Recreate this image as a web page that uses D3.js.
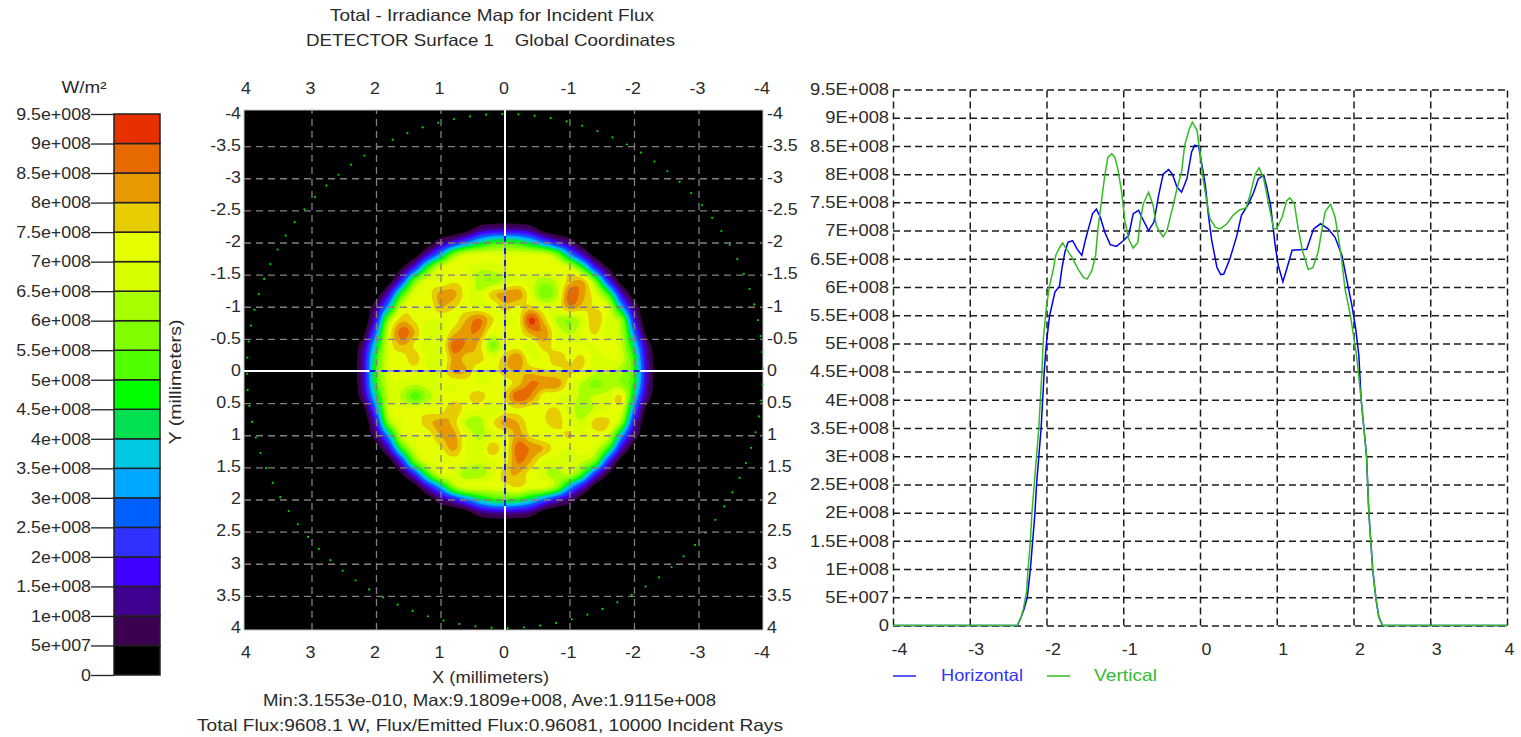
<!DOCTYPE html>
<html><head><meta charset="utf-8">
<script src="https://cdn.jsdelivr.net/npm/d3@7"></script>
<style>
html,body{margin:0;padding:0;background:#fff;overflow:hidden}
svg{display:block}
text{font-family:"Liberation Sans",Arial,sans-serif;font-size:16.5px;fill:#2a2a2a;white-space:pre}
</style></head><body>
<svg id="c" width="1521" height="737"></svg>
<script>
// ---------- data ----------
const titleLines = ["Total - Irradiance Map for Incident Flux", "DETECTOR Surface 1    Global Coordinates"];
const statLines = ["Min:3.1553e-010, Max:9.1809e+008, Ave:1.9115e+008", "Total Flux:9608.1 W, Flux/Emitted Flux:0.96081, 10000 Incident Rays"];
const unitLabel = "W/m²";
const levelValues = [0,5e7,1e8,1.5e8,2e8,2.5e8,3e8,3.5e8,4e8,4.5e8,5e8,5.5e8,6e8,6.5e8,7e8,7.5e8,8e8,8.5e8,9e8,9.5e8];
const levelLabels = ["0","5e+007","1e+008","1.5e+008","2e+008","2.5e+008","3e+008","3.5e+008","4e+008","4.5e+008","5e+008","5.5e+008","6e+008","6.5e+008","7e+008","7.5e+008","8e+008","8.5e+008","9e+008","9.5e+008"];
const profileLabels = ["0","5E+007","1E+008","1.5E+008","2E+008","2.5E+008","3E+008","3.5E+008","4E+008","4.5E+008","5E+008","5.5E+008","6E+008","6.5E+008","7E+008","7.5E+008","8E+008","8.5E+008","9E+008","9.5E+008"];
const levelColors = ["#000000","#3c0050","#400090","#4000ff","#3030ff","#0060ff","#00a8ff","#00c8e0","#00e050","#00ff00","#50ff00","#80ff00","#a8ff00","#d8ff00","#e6ff00","#e6cc00","#e69a00","#e66a00","#e63000"];
const mapXTicks = [4,3,2,1,0,-1,-2,-3,-4];
const mapYTicks = [-4,-3.5,-3,-2.5,-2,-1.5,-1,-0.5,0,0.5,1,1.5,2,2.5,3,3.5,4];
const profileXTicks = [-4,-3,-2,-1,0,1,2,3,4];
const gridStep = 0.2;        // mm between samples
const gridUnit = 1e7;        // W/m² per stored unit
const irradianceRows = [
[0,0,0,0,0,0,0,0,0,0,0,0,0,0,0,0,0,0,0,0,0,0,0,0,0,0,0],
[0,0,0,0,0,0,0,0,0,0,0,0,0,0,0,0,0,0,0,0,0,0,0,0,0,0,0],
[0,0,0,0,0,0,0,0,0,0,2,10,13,14,13,10,2,0,0,0,0,0,0,0,0,0,0],
[0,0,0,0,0,0,0,1,10,18,29,40,48,50,48,40,29,18,10,1,0,0,0,0,0,0,0],
[0,0,0,0,0,0,2,17,35,60,70,70,70,70,70,70,70,60,35,17,2,0,0,0,0,0,0],
[0,0,0,0,0,5,22,50,70,72,70,66,67,70,72,72,72,72,70,50,22,5,0,0,0,0,0],
[0,0,0,0,2,22,56,70,70,74,72,62,60,66,70,68,62,66,78,80,56,22,2,0,0,0,0],
[0,0,0,1,17,50,70,72,82,82,72,66,78,82,84,70,56,64,88,82,70,50,17,1,0,0,0],
[0,0,0,10,35,68,72,70,80,76,72,70,70,78,74,76,70,70,84,78,74,68,35,10,0,0,0],
[0,0,0,18,60,78,74,70,70,72,80,86,76,70,72,92,78,64,60,68,80,68,60,18,0,0,0],
[0,0,2,29,70,88,80,66,68,78,84,84,70,74,72,82,84,70,64,70,76,66,64,29,2,0,0],
[0,0,10,40,70,80,74,66,68,88,84,78,58,70,72,68,78,72,72,70,70,74,66,40,10,0,0],
[0,0,13,48,70,72,78,68,66,82,78,78,70,78,84,70,72,78,74,76,68,70,68,48,13,0,0],
[0,0,14,50,70,72,72,70,70,82,80,70,72,78,80,78,76,74,76,74,66,66,62,50,14,0,0],
[0,0,13,48,68,68,66,68,70,70,72,70,70,72,78,86,84,84,72,64,58,62,60,48,13,0,0],
[0,0,10,40,66,64,52,62,70,72,74,78,72,76,90,84,72,70,68,64,66,68,76,40,10,0,0],
[0,0,2,29,68,70,72,72,72,80,72,70,66,72,74,72,74,76,68,62,66,70,70,29,2,0,0],
[0,0,0,18,60,70,72,78,82,78,64,62,74,82,80,72,74,78,70,66,78,76,60,18,0,0,0],
[0,0,0,10,35,68,70,72,80,82,70,64,68,72,82,74,70,72,76,70,72,68,35,10,0,0,0],
[0,0,0,1,17,50,68,72,74,82,70,66,80,72,88,84,80,72,70,72,68,50,17,1,0,0,0],
[0,0,0,0,2,22,56,70,70,72,70,66,70,72,86,80,70,68,68,66,56,22,2,0,0,0,0],
[0,0,0,0,0,5,22,50,70,70,60,62,68,78,80,72,66,62,66,50,22,5,0,0,0,0,0],
[0,0,0,0,0,0,2,17,35,60,70,70,70,72,76,70,70,60,35,17,2,0,0,0,0,0,0],
[0,0,0,0,0,0,0,1,10,18,29,40,48,50,48,40,29,18,10,1,0,0,0,0,0,0,0],
[0,0,0,0,0,0,0,0,0,0,2,10,13,14,13,10,2,0,0,0,0,0,0,0,0,0,0],
[0,0,0,0,0,0,0,0,0,0,0,0,0,0,0,0,0,0,0,0,0,0,0,0,0,0,0],
[0,0,0,0,0,0,0,0,0,0,0,0,0,0,0,0,0,0,0,0,0,0,0,0,0,0,0]];
const apertureRadiusMm = 4;
const apertureDotCount = 100;

const horizontalX = [-4,-2.38,-2.33,-2.29,-2.25,-2.21,-2.18,-2.15,-2.13,-2.10,-2.07,-2.05,-2.03,-2.0,-1.96,-1.89,-1.83,-1.80,-1.76,-1.72,-1.66,-1.60,-1.54,-1.49,-1.43,-1.40,-1.35,-1.30,-1.24,-1.17,-1.09,-1.0,-.93,-.87,-.80,-.76,-.67,-.60,-.54,-.48,-.41,-.36,-.30,-.24,-.17,-.11,-.07,-.02,.02,.07,.11,.15,.22,.27,.31,.39,.48,.54,.63,.70,.76,.83,.87,.92,.98,1.02,1.08,1.13,1.2,1.3,1.39,1.48,1.57,1.67,1.76,1.85,1.91,1.98,2.03,2.07,2.1,2.17,2.2,2.25,2.29,2.33,2.38,4];
const horizontalV = [0,0,.15,.3,.5,1,1.5,2,2.5,3,3.5,4,4.5,5.02,5.49,5.91,6.02,6.32,6.62,6.79,6.82,6.67,6.56,6.85,7.15,7.30,7.38,7.24,6.97,6.75,6.72,6.82,6.91,7.30,7.36,7.24,7.0,7.15,7.62,8.0,8.08,8.0,7.77,7.68,7.92,8.39,8.51,8.50,8.21,7.8,7.27,6.85,6.35,6.22,6.23,6.5,6.91,7.27,7.47,7.68,7.92,7.98,7.77,7.44,6.73,6.38,6.09,6.32,6.65,6.66,6.67,7.03,7.12,7.03,6.88,6.56,6.14,5.67,5.25,4.78,4,3,2,1,.5,.15,0,0];
const verticalX = [-4,-2.38,-2.33,-2.30,-2.26,-2.24,-2.21,-2.19,-2.16,-2.13,-2.10,-2.08,-2.06,-2.04,-2.0,-1.96,-1.91,-1.88,-1.83,-1.79,-1.74,-1.67,-1.59,-1.52,-1.47,-1.41,-1.36,-1.33,-1.28,-1.24,-1.20,-1.15,-1.11,-1.07,-1.02,-.98,-.93,-.87,-.81,-.78,-.74,-.67,-.61,-.57,-.52,-.48,-.43,-.37,-.30,-.24,-.20,-.14,-.10,-.04,0,.04,.09,.13,.2,.26,.35,.43,.52,.6,.65,.72,.77,.83,.89,.96,1.0,1.07,1.13,1.17,1.23,1.28,1.34,1.41,1.47,1.54,1.59,1.63,1.70,1.76,1.8,1.85,1.89,1.96,2.0,2.04,2.1,2.17,2.2,2.25,2.29,2.33,2.38,4];
const verticalV = [0,0,.15,.3,.6,1,1.5,2,2.5,3,3.5,4,4.5,5.1,5.67,6.02,6.32,6.56,6.70,6.78,6.67,6.53,6.32,6.17,6.14,6.29,6.56,7.03,7.56,7.98,8.30,8.36,8.30,8.09,7.68,7.18,6.85,6.69,6.79,7.15,7.47,7.68,7.44,7.09,6.97,6.89,7.0,7.33,7.74,8.04,8.51,8.80,8.92,8.78,8.39,7.92,7.5,7.21,7.06,7.03,7.12,7.27,7.37,7.4,7.62,8.0,8.11,7.92,7.5,7.03,7.03,7.24,7.53,7.58,7.47,7.03,6.62,6.31,6.34,6.62,7.03,7.33,7.47,7.24,6.91,6.44,5.96,5.49,5.14,4.78,4,3,2,1,.5,.15,0,0];
const profileUnit = 1e8;
const legendNames = ["Horizontal","Vertical"];

// ---------- set-up ----------
const svg = d3.select("#c");
const blue = "#0000ee", green = "#33bb22";

function widen(sel, factor){
  sel.each(function(){
    const n = this.getComputedTextLength();
    d3.select(this).attr("textLength", n*factor).attr("lengthAdjust","spacingAndGlyphs");
  });
}
function fit(sel, width){
  sel.attr("textLength",width).attr("lengthAdjust","spacingAndGlyphs");
}
function label(x,y,txt,anchor,width){
  return svg.append("text").attr("x",x).attr("y",y).attr("text-anchor",anchor||"middle")
    .attr("dy","0.35em").text(txt).call(fit,width);
}
label(492,15,titleLines[0],"middle",324);
label(490.5,40,titleLines[1],"middle",369);
label(489.5,700,statLines[0],"middle",453);
label(490,725,statLines[1],"middle",586);
label(490.5,677,"X (millimeters)","middle",117);
label(84,87,unitLabel,"middle",45);
svg.append("text").attr("transform","translate(175,382) rotate(-90)").attr("text-anchor","middle").attr("dy","0.35em")
  .text("Y (millimeters)").call(fit,125);

// ---------- colour bar ----------
const barY = d3.scaleLinear().domain([0,9.5e8]).range([675,114]);
const barG = svg.append("g");
barG.selectAll("rect").data(levelColors).join("rect")
  .attr("x",114).attr("width",46)
  .attr("y",(d,i)=>barY(levelValues[i+1])).attr("height",(d,i)=>barY(levelValues[i])-barY(levelValues[i+1]))
  .attr("fill",d=>d).attr("stroke","#222").attr("stroke-width",1.5);
const barAxis = svg.append("g").attr("transform","translate(114,0)")
  .call(d3.axisLeft(barY).tickValues(levelValues).tickSize(23).tickPadding(0).tickFormat((d,i)=>levelLabels[i]));
barAxis.attr("font-family",null).attr("font-size",null);
barAxis.select(".domain").remove();
barAxis.selectAll("line").attr("stroke","#222").attr("stroke-width",1.3);
barAxis.selectAll("text").call(widen,1.08);

// ---------- irradiance map ----------
const mapX = d3.scaleLinear().domain([4,-4]).range([247,763]);
const mapY = d3.scaleLinear().domain([-4,4]).range([114,628]);
const mapBox = {x:244,y:110,w:519,h:520};
svg.append("rect").attr("x",mapBox.x).attr("y",mapBox.y).attr("width",mapBox.w).attr("height",mapBox.h)
  .attr("fill","#000").attr("stroke","#c4c4c4").attr("stroke-width",1);

// cubic resampling of the read grid, so the level curves are drawn smoothly
const resample = 4;
const cubic=(a,b,c,d,t)=>0.5*(2*b+(c-a)*t+(2*a-5*b+4*c-d)*t*t+(3*b-a-3*c+d)*t*t*t);
function refine(arr){
  const out=[], n=arr.length;
  for(let i=0;i<n-1;i++) for(let k=0;k<resample;k++)
    out.push(cubic(arr[Math.max(i-1,0)],arr[i],arr[i+1],arr[Math.min(i+2,n-1)],k/resample));
  out.push(arr[n-1]);
  return out;
}
const fineRows = irradianceRows.map(refine);
const fineCols = d3.range(fineRows[0].length).map(j=>refine(fineRows.map(r=>r[j])));
const nFine = fineCols.length;
const flat = [];
for(let y=0;y<nFine;y++) for(let x=0;x<nFine;x++) flat.push(fineCols[x][y]);
const thresholds = levelValues.slice(1,-1).map(v=>v/gridUnit);
const contours = d3.contours().size([nFine,nFine]).smooth(true).thresholds(thresholds)(flat);
const halfSpan = (irradianceRows.length-1)/2;
const proj = d3.geoTransform({point(x,y){
  this.stream.point(mapX(-((x-0.5)/resample-halfSpan)*gridStep), mapY(((y-0.5)/resample-halfSpan)*gridStep));
}});
const pathGen = d3.geoPath(proj);
svg.append("g").selectAll("path").data(contours).join("path")
  .attr("d",pathGen).attr("fill",(d,i)=>levelColors[i+1]).attr("stroke","none");

// aperture dots
svg.append("g").selectAll("circle").data(d3.range(apertureDotCount)).join("circle")
  .attr("cx",i=>mapX(apertureRadiusMm*Math.sin((i+0.83)*2*Math.PI/apertureDotCount)))
  .attr("cy",i=>mapY(apertureRadiusMm*Math.cos((i+0.83)*2*Math.PI/apertureDotCount)))
  .attr("r",1.1).attr("fill","#00d800");

// grid
const gridStyle = g=>{g.select(".domain").remove();
  g.selectAll("line").attr("stroke","#808080").attr("stroke-width",1.3).attr("stroke-dasharray","7 5");
  g.selectAll("text").remove();};
svg.append("g").attr("transform",`translate(0,${mapBox.y+mapBox.h})`)
  .call(d3.axisBottom(mapX).tickValues(mapXTicks.filter(d=>d!==0&&Math.abs(d)!==4)).tickSize(-mapBox.h)).call(gridStyle);
svg.append("g").attr("transform",`translate(${mapBox.x},0)`)
  .call(d3.axisRight(mapY).tickValues(mapYTicks.filter(d=>d!==0&&Math.abs(d)!==4)).tickSize(mapBox.w)).call(gridStyle);

// cross-hair
const cross = svg.append("g");
cross.append("line").attr("x1",mapBox.x).attr("x2",mapBox.x+mapBox.w).attr("y1",mapY(0)).attr("y2",mapY(0)).attr("stroke","#fff").attr("stroke-width",2);
cross.append("line").attr("x1",mapX(0)).attr("x2",mapX(0)).attr("y1",mapBox.y).attr("y2",mapBox.y+mapBox.h).attr("stroke","#fff").attr("stroke-width",2);
const crossR = 2.1;
[[mapX(crossR),mapX(-crossR),mapY(0),mapY(0)],[mapX(0),mapX(0),mapY(-crossR),mapY(crossR)]].forEach(p=>{
  cross.append("line").attr("x1",p[0]).attr("x2",p[1]).attr("y1",p[2]).attr("y2",p[3]).attr("stroke","#a8a8a8").attr("stroke-width",2);
  cross.append("line").attr("x1",p[0]).attr("x2",p[1]).attr("y1",p[2]).attr("y2",p[3]).attr("stroke","#1a1ae6").attr("stroke-width",2).attr("stroke-dasharray","6 6");
});

// map tick labels
function plainAxis(g,factor){
  g.attr("font-family",null).attr("font-size",null);
  g.select(".domain").remove(); g.selectAll("line").remove();
  g.selectAll("text").call(widen,factor);
}
[[88,d3.axisTop],[652,d3.axisBottom]].forEach(([y,ax])=>{
  svg.append("g").attr("transform",`translate(-1.5,${y})`)
    .call(ax(mapX).tickValues(mapXTicks).tickSize(0).tickPadding(0).tickFormat(String)).call(plainAxis,1.08)
    .selectAll("text").attr("y",0).attr("dy","0.35em");
});
svg.append("g").attr("transform","translate(241,-1)").call(d3.axisLeft(mapY).tickValues(mapYTicks).tickSize(0).tickPadding(0).tickFormat(String)).call(plainAxis,1.08);
svg.append("g").attr("transform","translate(767,-1)").call(d3.axisRight(mapY).tickValues(mapYTicks).tickSize(0).tickPadding(0).tickFormat(String)).call(plainAxis,1.08);

// ---------- profile chart ----------
const pX = d3.scaleLinear().domain([-4,4]).range([893,1507]);
const pY = d3.scaleLinear().domain([0,9.5e8]).range([625.5,89.5]);
const pGrid = g=>{g.attr("font-family",null).attr("font-size",null);g.select(".domain").remove();
  g.selectAll("line").attr("stroke","#1c1c1c").attr("stroke-width",1.5).attr("stroke-dasharray","7 4");};
const pgx = svg.append("g").attr("transform","translate(0,625.5)")
  .call(d3.axisBottom(pX).tickValues(profileXTicks).tickSize(-(625.5-89.5)).tickFormat(String)).call(pGrid);
pgx.selectAll("text").attr("y",24).attr("dx",d=>d===4?2:6).attr("dy","0.35em").call(widen,1.08);
const pgy = svg.append("g").attr("transform","translate(893,0)")
  .call(d3.axisLeft(pY).tickValues(levelValues).tickSize(-(1507-893)).tickPadding(4).tickFormat((d,i)=>profileLabels[i])).call(pGrid);
pgy.selectAll("text").call(widen,1.11);

const line = d3.line().x(d=>pX(d[0])).y(d=>pY(d[1]*profileUnit));
svg.append("path").attr("d",line(d3.zip(horizontalX,horizontalV))).attr("fill","none").attr("stroke",blue).attr("stroke-width",1.5);
svg.append("path").attr("d",line(d3.zip(verticalX,verticalV))).attr("fill","none").attr("stroke",green).attr("stroke-width",1.5);

// legend
const legY = 676;
svg.append("line").attr("x1",893).attr("x2",916).attr("y1",legY).attr("y2",legY).attr("stroke","#2222ee").attr("stroke-width",1.5);
label(941,legY-1,legendNames[0],"start",82).style("fill","#3333ff");
svg.append("line").attr("x1",1047).attr("x2",1070).attr("y1",legY).attr("y2",legY).attr("stroke",green).attr("stroke-width",1.5);
label(1094,legY-1,legendNames[1],"start",63).style("fill","#33bb33");
</script>
</body></html>
